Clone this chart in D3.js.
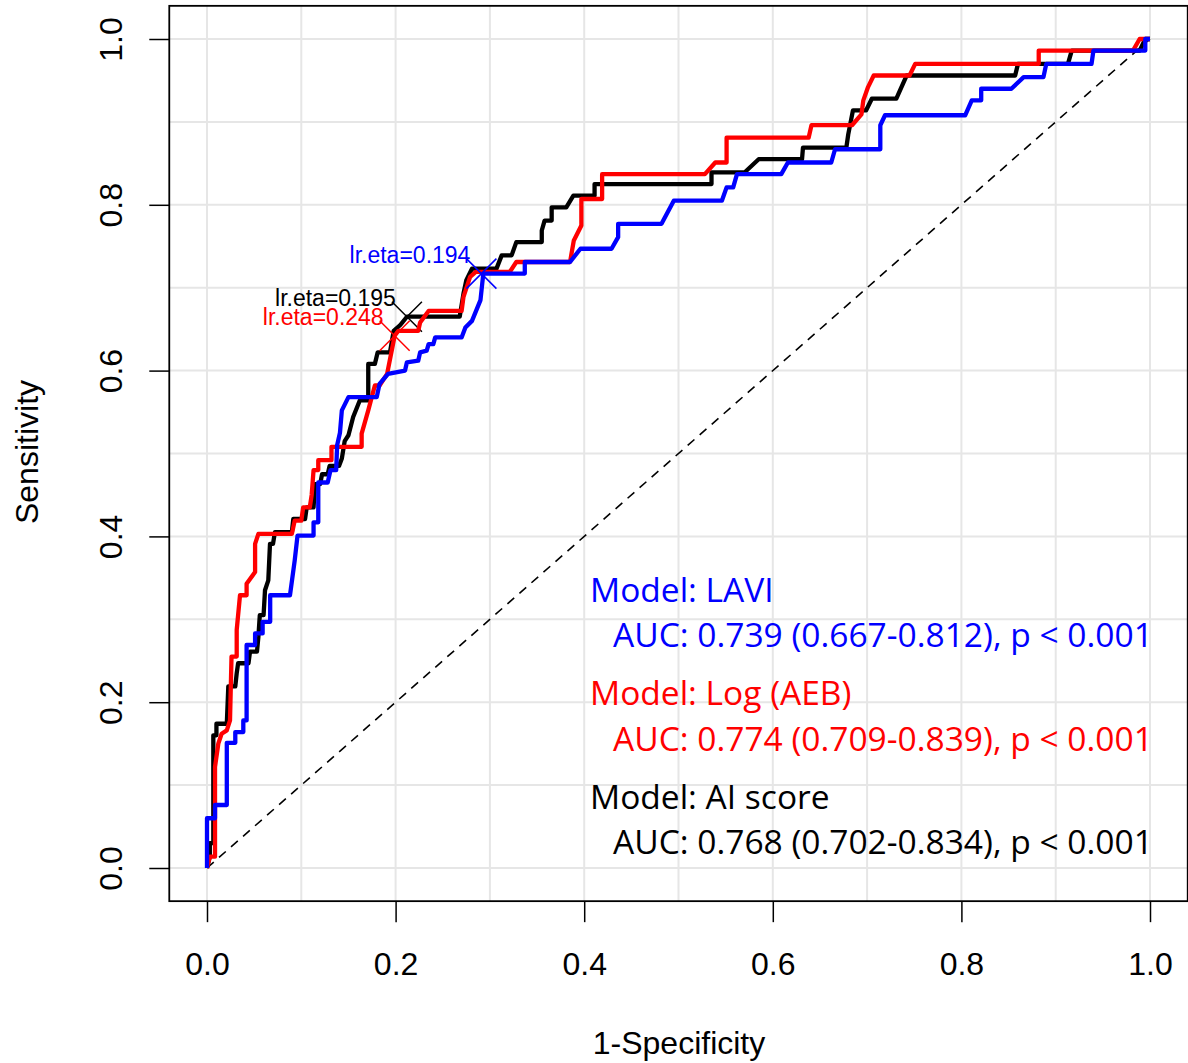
<!DOCTYPE html>
<html>
<head>
<meta charset="utf-8">
<script src="https://cdn.jsdelivr.net/npm/d3@7"></script>
<style>
  body { margin: 0; background: #fff; }
  svg { display: block; font-family: "Liberation Sans", Arial, sans-serif; }
</style>
</head>
<body>
<svg id="svg0" width="1188" height="1063"></svg>
<script>
// ROC 곡선 데이터
var tickVals = [0, 0.2, 0.4, 0.6, 0.8, 1.0];
var gridVals = [0, 0.1, 0.2, 0.3, 0.4, 0.5, 0.6, 0.7, 0.8, 0.9, 1.0];

var fprAI = [0, 0.003, 0.003, 0.0067, 0.0067, 0.010, 0.010, 0.021, 0.0226, 0.030, 0.0315, 0.033, 0.044, 0.0456, 0.053, 0.0545, 0.056, 0.060, 0.0615, 0.065, 0.0668, 0.070, 0.072, 0.090, 0.0915, 0.104, 0.1057, 0.113, 0.1145, 0.120, 0.122, 0.128, 0.130, 0.140, 0.143, 0.146, 0.150, 0.155, 0.162, 0.171, 0.171, 0.178, 0.181, 0.194, 0.198, 0.205, 0.212, 0.268, 0.272, 0.275, 0.281, 0.307, 0.3125, 0.323, 0.328, 0.355, 0.355, 0.358, 0.3655, 0.3655, 0.381, 0.3885, 0.411, 0.411, 0.535, 0.535, 0.570, 0.585, 0.631, 0.632, 0.678, 0.680, 0.685, 0.699, 0.705, 0.731, 0.742, 0.857, 0.860, 0.913, 0.917, 0.989, 0.995, 1];
var tprAI = [0, 0.0137, 0.030, 0.030, 0.160, 0.160, 0.174, 0.174, 0.219, 0.219, 0.235, 0.247, 0.247, 0.261, 0.261, 0.279, 0.305, 0.305, 0.335, 0.347, 0.391, 0.391, 0.405, 0.405, 0.421, 0.421, 0.435, 0.435, 0.463, 0.463, 0.475, 0.475, 0.485, 0.485, 0.494, 0.515, 0.522, 0.544, 0.564, 0.564, 0.608, 0.608, 0.622, 0.622, 0.648, 0.655, 0.665, 0.665, 0.693, 0.709, 0.723, 0.723, 0.739, 0.739, 0.755, 0.755, 0.769, 0.781, 0.781, 0.797, 0.797, 0.811, 0.811, 0.825, 0.825, 0.839, 0.839, 0.855, 0.855, 0.869, 0.869, 0.885, 0.914, 0.914, 0.928, 0.928, 0.956, 0.956, 0.970, 0.970, 0.986, 0.986, 1.0, 1.0];

var fprLog = [0, 0.003, 0.0085, 0.0085, 0.012, 0.0155, 0.021, 0.0244, 0.026, 0.0315, 0.0315, 0.035, 0.042, 0.042, 0.051, 0.051, 0.0545, 0.090, 0.093, 0.100, 0.102, 0.109, 0.111, 0.113, 0.118, 0.118, 0.132, 0.132, 0.164, 0.164, 0.171, 0.178, 0.183, 0.191, 0.199, 0.203, 0.224, 0.226, 0.235, 0.270, 0.272, 0.279, 0.285, 0.321, 0.328, 0.385, 0.389, 0.397, 0.397, 0.419, 0.419, 0.528, 0.539, 0.551, 0.551, 0.638, 0.641, 0.684, 0.694, 0.696, 0.701, 0.707, 0.745, 0.751, 0.882, 0.882, 0.982, 0.989, 1];
var tprLog = [0, 0.0137, 0.0137, 0.122, 0.150, 0.162, 0.166, 0.178, 0.255, 0.255, 0.287, 0.329, 0.329, 0.343, 0.357, 0.391, 0.403, 0.403, 0.419, 0.419, 0.435, 0.435, 0.450, 0.480, 0.480, 0.492, 0.492, 0.508, 0.508, 0.524, 0.552, 0.582, 0.582, 0.596, 0.642, 0.648, 0.648, 0.658, 0.672, 0.672, 0.689, 0.713, 0.719, 0.719, 0.731, 0.731, 0.757, 0.775, 0.807, 0.807, 0.837, 0.837, 0.851, 0.851, 0.881, 0.881, 0.896, 0.896, 0.909, 0.926, 0.942, 0.956, 0.956, 0.970, 0.970, 0.986, 0.986, 1.0, 1.0];

var fprLAVI = [0, 0, 0.0085, 0.0085, 0.021, 0.021, 0.030, 0.030, 0.0385, 0.0385, 0.042, 0.042, 0.051, 0.051, 0.059, 0.059, 0.067, 0.067, 0.088, 0.093, 0.096, 0.113, 0.113, 0.118, 0.118, 0.128, 0.131, 0.137, 0.138, 0.141, 0.143, 0.150, 0.180, 0.183, 0.192, 0.210, 0.212, 0.224, 0.226, 0.233, 0.235, 0.240, 0.242, 0.270, 0.274, 0.281, 0.290, 0.293, 0.337, 0.337, 0.385, 0.396, 0.429, 0.436, 0.436, 0.482, 0.495, 0.546, 0.551, 0.558, 0.562, 0.609, 0.616, 0.662, 0.666, 0.714, 0.714, 0.719, 0.804, 0.811, 0.821, 0.821, 0.853, 0.866, 0.887, 0.890, 0.938, 0.940, 0.995, 0.995, 1];
var tprLAVI = [0, 0.060, 0.060, 0.076, 0.076, 0.151, 0.151, 0.164, 0.164, 0.178, 0.178, 0.269, 0.269, 0.283, 0.283, 0.297, 0.297, 0.329, 0.329, 0.371, 0.401, 0.401, 0.417, 0.417, 0.465, 0.465, 0.480, 0.480, 0.510, 0.525, 0.552, 0.568, 0.568, 0.584, 0.596, 0.600, 0.610, 0.612, 0.622, 0.624, 0.632, 0.632, 0.640, 0.640, 0.652, 0.660, 0.685, 0.717, 0.717, 0.731, 0.731, 0.747, 0.747, 0.761, 0.777, 0.777, 0.805, 0.805, 0.821, 0.821, 0.837, 0.837, 0.851, 0.851, 0.867, 0.867, 0.896, 0.908, 0.908, 0.926, 0.926, 0.940, 0.940, 0.954, 0.954, 0.970, 0.970, 0.986, 0.986, 1.0, 1.0];

// 최적 threshold 점 (fpr, tpr, label)
var thrNames = ["lr.eta=0.195", "lr.eta=0.248", "lr.eta=0.194"];
var thrFpr = [0.212, 0.199, 0.291];
var thrTpr = [0.665, 0.642, 0.717];

var legendLines = [
  "Model: LAVI", "AUC: 0.739 (0.667-0.812), p < 0.001",
  "Model: Log (AEB)", "AUC: 0.774 (0.709-0.839), p < 0.001",
  "Model: AI score", "AUC: 0.768 (0.702-0.834), p < 0.001"
];

var svg = d3.select("#svg0");

var xScale = d3.scaleLinear().domain([0, 1]).range([207, 1150]);
var yScale = d3.scaleLinear().domain([0, 1]).range([868, 39]);
var x0 = xScale(-0.04), x1 = xScale(1.04), y0 = yScale(-0.04), y1 = yScale(1.04);

// grid
svg.append("g").selectAll("line.vg")
  .data(gridVals).enter().append("line")
  .attr("x1", function(d){return xScale(d);}).attr("x2", function(d){return xScale(d);})
  .attr("y1", y1).attr("y2", y0)
  .attr("stroke", "#e6e6e6").attr("stroke-width", 2);
svg.append("g").selectAll("line.hg")
  .data(gridVals).enter().append("line")
  .attr("y1", function(d){return yScale(d);}).attr("y2", function(d){return yScale(d);})
  .attr("x1", x0).attr("x2", x1)
  .attr("stroke", "#e6e6e6").attr("stroke-width", 2);

// diagonal
svg.append("line")
  .attr("x1", xScale(0)).attr("y1", yScale(0))
  .attr("x2", xScale(1)).attr("y2", yScale(1))
  .attr("stroke", "#000").attr("stroke-width", 1.6)
  .attr("stroke-dasharray", "9,7");

var line = d3.line()
  .x(function(d){return xScale(d[0]);})
  .y(function(d){return yScale(d[1]);});

var curves = [
  {fpr: fprAI, tpr: tprAI, color: "#000000"},
  {fpr: fprLog, tpr: tprLog, color: "#ff0000"},
  {fpr: fprLAVI, tpr: tprLAVI, color: "#0000ff"}
];

curves.forEach(function(c, k){
  var pts = c.fpr.map(function(f, i){return [f, c.tpr[i]];});
  svg.append("path")
    .attr("d", line(pts))
    .attr("fill", "none")
    .attr("stroke", c.color)
    .attr("stroke-width", 4.3)
    .attr("stroke-linejoin", "round");

  var px = xScale(thrFpr[k]), py = yScale(thrTpr[k]);
  var s = 15;
  svg.append("path")
    .attr("d", "M" + (px - s) + "," + (py - s) + "L" + (px + s) + "," + (py + s) +
               "M" + (px - s) + "," + (py + s) + "L" + (px + s) + "," + (py - s))
    .attr("stroke", c.color).attr("stroke-width", 1.5).attr("fill", "none");
  svg.append("text")
    .attr("x", px - 11).attr("y", py - 11)
    .style("text-anchor", "end")
    .style("font-size", "23px")
    .attr("fill", c.color)
    .text(thrNames[k]);
});

// box
svg.append("rect")
  .attr("x", x0).attr("y", y1)
  .attr("width", x1 - x0).attr("height", y0 - y1)
  .attr("fill", "none").attr("stroke", "#000").attr("stroke-width", 1.8);

// x axis
var gx = svg.append("g")
  .attr("transform", "translate(0," + y0 + ")")
  .call(d3.axisBottom(xScale).tickValues(tickVals).tickSize(21).tickFormat(d3.format(".1f")));
gx.select(".domain").remove();
gx.selectAll(".tick line").attr("stroke-width", 1.5);
gx.selectAll("text").attr("y", 74).attr("dy", 0)
  .style("font-size", "32px").style("font-family", "Liberation Sans, Arial").attr("fill", "#000");

// y axis
var gy = svg.append("g")
  .attr("transform", "translate(" + x0 + ",0)")
  .call(d3.axisLeft(yScale).tickValues(tickVals).tickSize(20).tickFormat(d3.format(".1f")));
gy.select(".domain").remove();
gy.selectAll(".tick line").attr("stroke-width", 1.5);
gy.selectAll("text")
  .attr("x", 0).attr("y", -47).attr("dy", 0)
  .attr("transform", "rotate(-90)")
  .style("text-anchor", "middle")
  .style("font-size", "32px").style("font-family", "Liberation Sans, Arial").attr("fill", "#000");

// axis titles
svg.append("text")
  .attr("x", 679).attr("y", 1054)
  .style("text-anchor", "middle").style("font-size", "32px")
  .text("1-Specificity");
svg.append("text")
  .attr("transform", "translate(38,452) rotate(-90)")
  .style("text-anchor", "middle").style("font-size", "32px")
  .text("Sensitivity");

// legend (AUC)
var legColors = ["#0000ff", "#0000ff", "#ff0000", "#ff0000", "#000000", "#000000"];
var legX = [590, 613, 590, 613, 590, 613];
var legY = [602, 647, 705, 751, 809, 854];
var leg = svg.append("g").selectAll("text")
  .data(legendLines).enter().append("text")
  .attr("x", function(d, i){return legX[i];})
  .attr("y", function(d, i){return legY[i];})
  .attr("fill", function(d, i){return legColors[i];})
  .style("font-family", "'Open Sans', 'Noto Sans', sans-serif")
  .style("font-size", "30px")
  .text(function(d){return d;});
// 폭 맞추기
var w = leg.nodes()[1].getComputedTextLength();
var fs = 30 * 540 / w;
leg.style("font-size", fs + "px");
</script>
</body>
</html>
